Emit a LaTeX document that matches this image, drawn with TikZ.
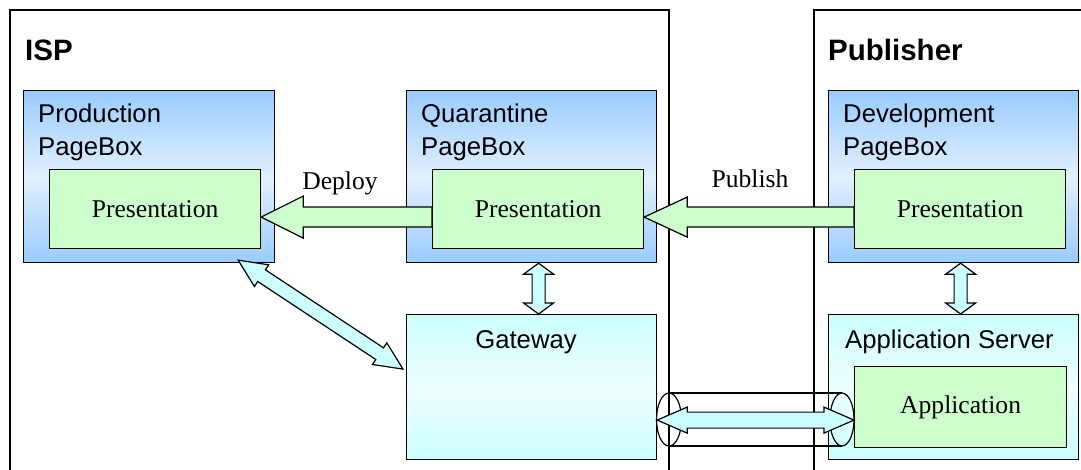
\documentclass[tikz,border=0pt]{standalone}
\usepackage{fontspec}
\setmainfont{Liberation Serif}
\setsansfont{Liberation Sans}
\usetikzlibrary{calc}

\definecolor{pageblue}{RGB}{153,204,255}
\definecolor{paleblue}{RGB}{226,240,255}
\definecolor{gwcyan}{RGB}{204,255,255}
\definecolor{palecyan}{RGB}{238,255,255}
\definecolor{presgreen}{RGB}{204,255,204}

\newcommand{\onearrow}[6]{%
	\path #1 coordinate (ar-s) #2 coordinate (ar-t);
	\path ($(ar-t)!#5!(ar-s)$) coordinate (ar-h);
	\filldraw[fill=#6, line width=1.2pt] ($(ar-s)!#3!90:(ar-t)$) -- ($(ar-h)!#3!-90:(ar-s)$) -- ($(ar-h)!#4!-90:(ar-s)$) -- (ar-t) -- ($(ar-h)!#4!90:(ar-s)$) -- ($(ar-h)!#3!90:(ar-s)$) -- ($(ar-s)!#3!-90:(ar-t)$) -- cycle;
}
\newcommand{\twoarrow}[6]{%
	\path #1 coordinate (ar-s) #2 coordinate (ar-t);
	\path ($(ar-t)!#5!(ar-s)$) coordinate (ar-h) ($(ar-s)!#5!(ar-t)$) coordinate (ar-g);
	\filldraw[fill=#6, line width=1.2pt] (ar-s) -- ($(ar-g)!#4!90:(ar-t)$) -- ($(ar-g)!#3!90:(ar-t)$) -- ($(ar-h)!#3!-90:(ar-s)$) -- ($(ar-h)!#4!-90:(ar-s)$) -- (ar-t) -- ($(ar-h)!#4!90:(ar-s)$) -- ($(ar-h)!#3!90:(ar-s)$) -- ($(ar-g)!#3!-90:(ar-t)$) -- ($(ar-g)!#4!-90:(ar-t)$) -- cycle;
}

\begin{document}
\begin{tikzpicture}[x=1pt,y=-1pt]
	\tikzstyle{every node}+=[inner sep=0pt]
	\tikzstyle{pagebox}=[draw, line width=1.2pt, top color=pageblue, bottom color=pageblue, middle color=paleblue, anchor=north west]
	\tikzstyle{serverbox}=[draw, line width=1.2pt, top color=gwcyan, bottom color=gwcyan, middle color=palecyan, anchor=north west]
	\tikzstyle{partbox}=[draw, line width=1.2pt, fill=presgreen, minimum width=211pt, minimum height=79pt, anchor=north west, font=\fontsize{25.6}{30}\selectfont]
	\tikzstyle{boxlabel}=[font=\sffamily\fontsize{25.7}{33}\selectfont, align=left, anchor=base west]
	\tikzstyle{sidelabel}=[font=\sffamily\bfseries\fontsize{29.5}{35}\selectfont, anchor=base west]
	\tikzstyle{arrowlabel}=[font=\fontsize{25.6}{30}\selectfont, anchor=base]
	\path[use as bounding box] (0,0) rectangle (1081,470);
	\clip (0,0) rectangle (1081,470);
	\draw[line width=1.2pt] (10,10) rectangle (669,490);
	\draw[line width=1.2pt] (814,10) rectangle (1100,490);
	\node[sidelabel] (isp) at (25,61) {ISP};
	\node[sidelabel] (pub) at (828,61) {Publisher};
	\node[pagebox, minimum width=251pt, minimum height=172pt] (prodbox) at (23,90) {};
	\node[pagebox, minimum width=250pt, minimum height=172pt] (quarbox) at (406,90) {};
	\node[pagebox, minimum width=250pt, minimum height=172pt] (devbox) at (828,90) {};
	\node[serverbox, minimum width=250pt, minimum height=145pt] (gateway) at (406,314) {};
	\node[serverbox, minimum width=250pt, minimum height=145pt] (appserver) at (828,314) {};
	\node[boxlabel] (prodlabel) at (38,156) {Production\\PageBox};
	\node[boxlabel] (quarlabel) at (421,156) {Quarantine\\PageBox};
	\node[boxlabel] (devlabel) at (843,156) {Development\\PageBox};
	\node[boxlabel, anchor=base] (gwlabel) at (526,348) {Gateway};
	\node[boxlabel] (applabel) at (845,348) {Application Server};
	\node[partbox] (prodpres) at (49,169) {Presentation};
	\node[partbox] (quarpres) at (432,169) {Presentation};
	\node[partbox] (devpres) at (854,169) {Presentation};
	\node[partbox, minimum width=212pt, minimum height=81pt] (app) at (854,366) {Application};
	\node[arrowlabel] (deploy) at (340,190) {Deploy};
	\node[arrowlabel] (publish) at (750,188) {Publish};
	\coordinate (tubeleft) at (669,419.5);
	\coordinate (tuberight) at (842,419.5);
	\draw[line width=1.2pt] (tubeleft) ellipse [x radius=12.5, y radius=26.5];
	\draw[line width=1.2pt] (tuberight) ellipse [x radius=12, y radius=26.5];
	\draw[line width=1.2pt] ($(tubeleft)+(0,-26.5)$) -- ($(tuberight)+(0,-26.5)$);
	\draw[line width=1.2pt] ($(tubeleft)+(0,26.5)$) -- ($(tuberight)+(0,26.5)$);
	\onearrow{($(quarpres.west)+(0,8)$)}{($(prodpres.east)+(0,8)$)}{10pt}{21pt}{42pt}{presgreen}
	\onearrow{($(devpres.west)+(0,8)$)}{($(quarpres.east)+(0,8)$)}{10pt}{20pt}{43pt}{presgreen}
	\twoarrow{($(quarbox.south)+(7,0)$)}{($(gateway.north)+(7,0)$)}{6.5pt}{15pt}{11pt}{gwcyan}
	\twoarrow{($(devbox.south)+(7,0)$)}{($(appserver.north)+(7,0)$)}{6.5pt}{15pt}{11pt}{gwcyan}
	\twoarrow{($(prodbox.south east)+(-37,-3)$)}{($(gateway.west)+(-3,-18)$)}{7pt}{13pt}{28pt}{gwcyan}
	\twoarrow{($(gateway.east)+(0,33)$)}{($(app.west)+(0,13)$)}{8pt}{13pt}{30pt}{gwcyan}
\end{tikzpicture}
\end{document}
